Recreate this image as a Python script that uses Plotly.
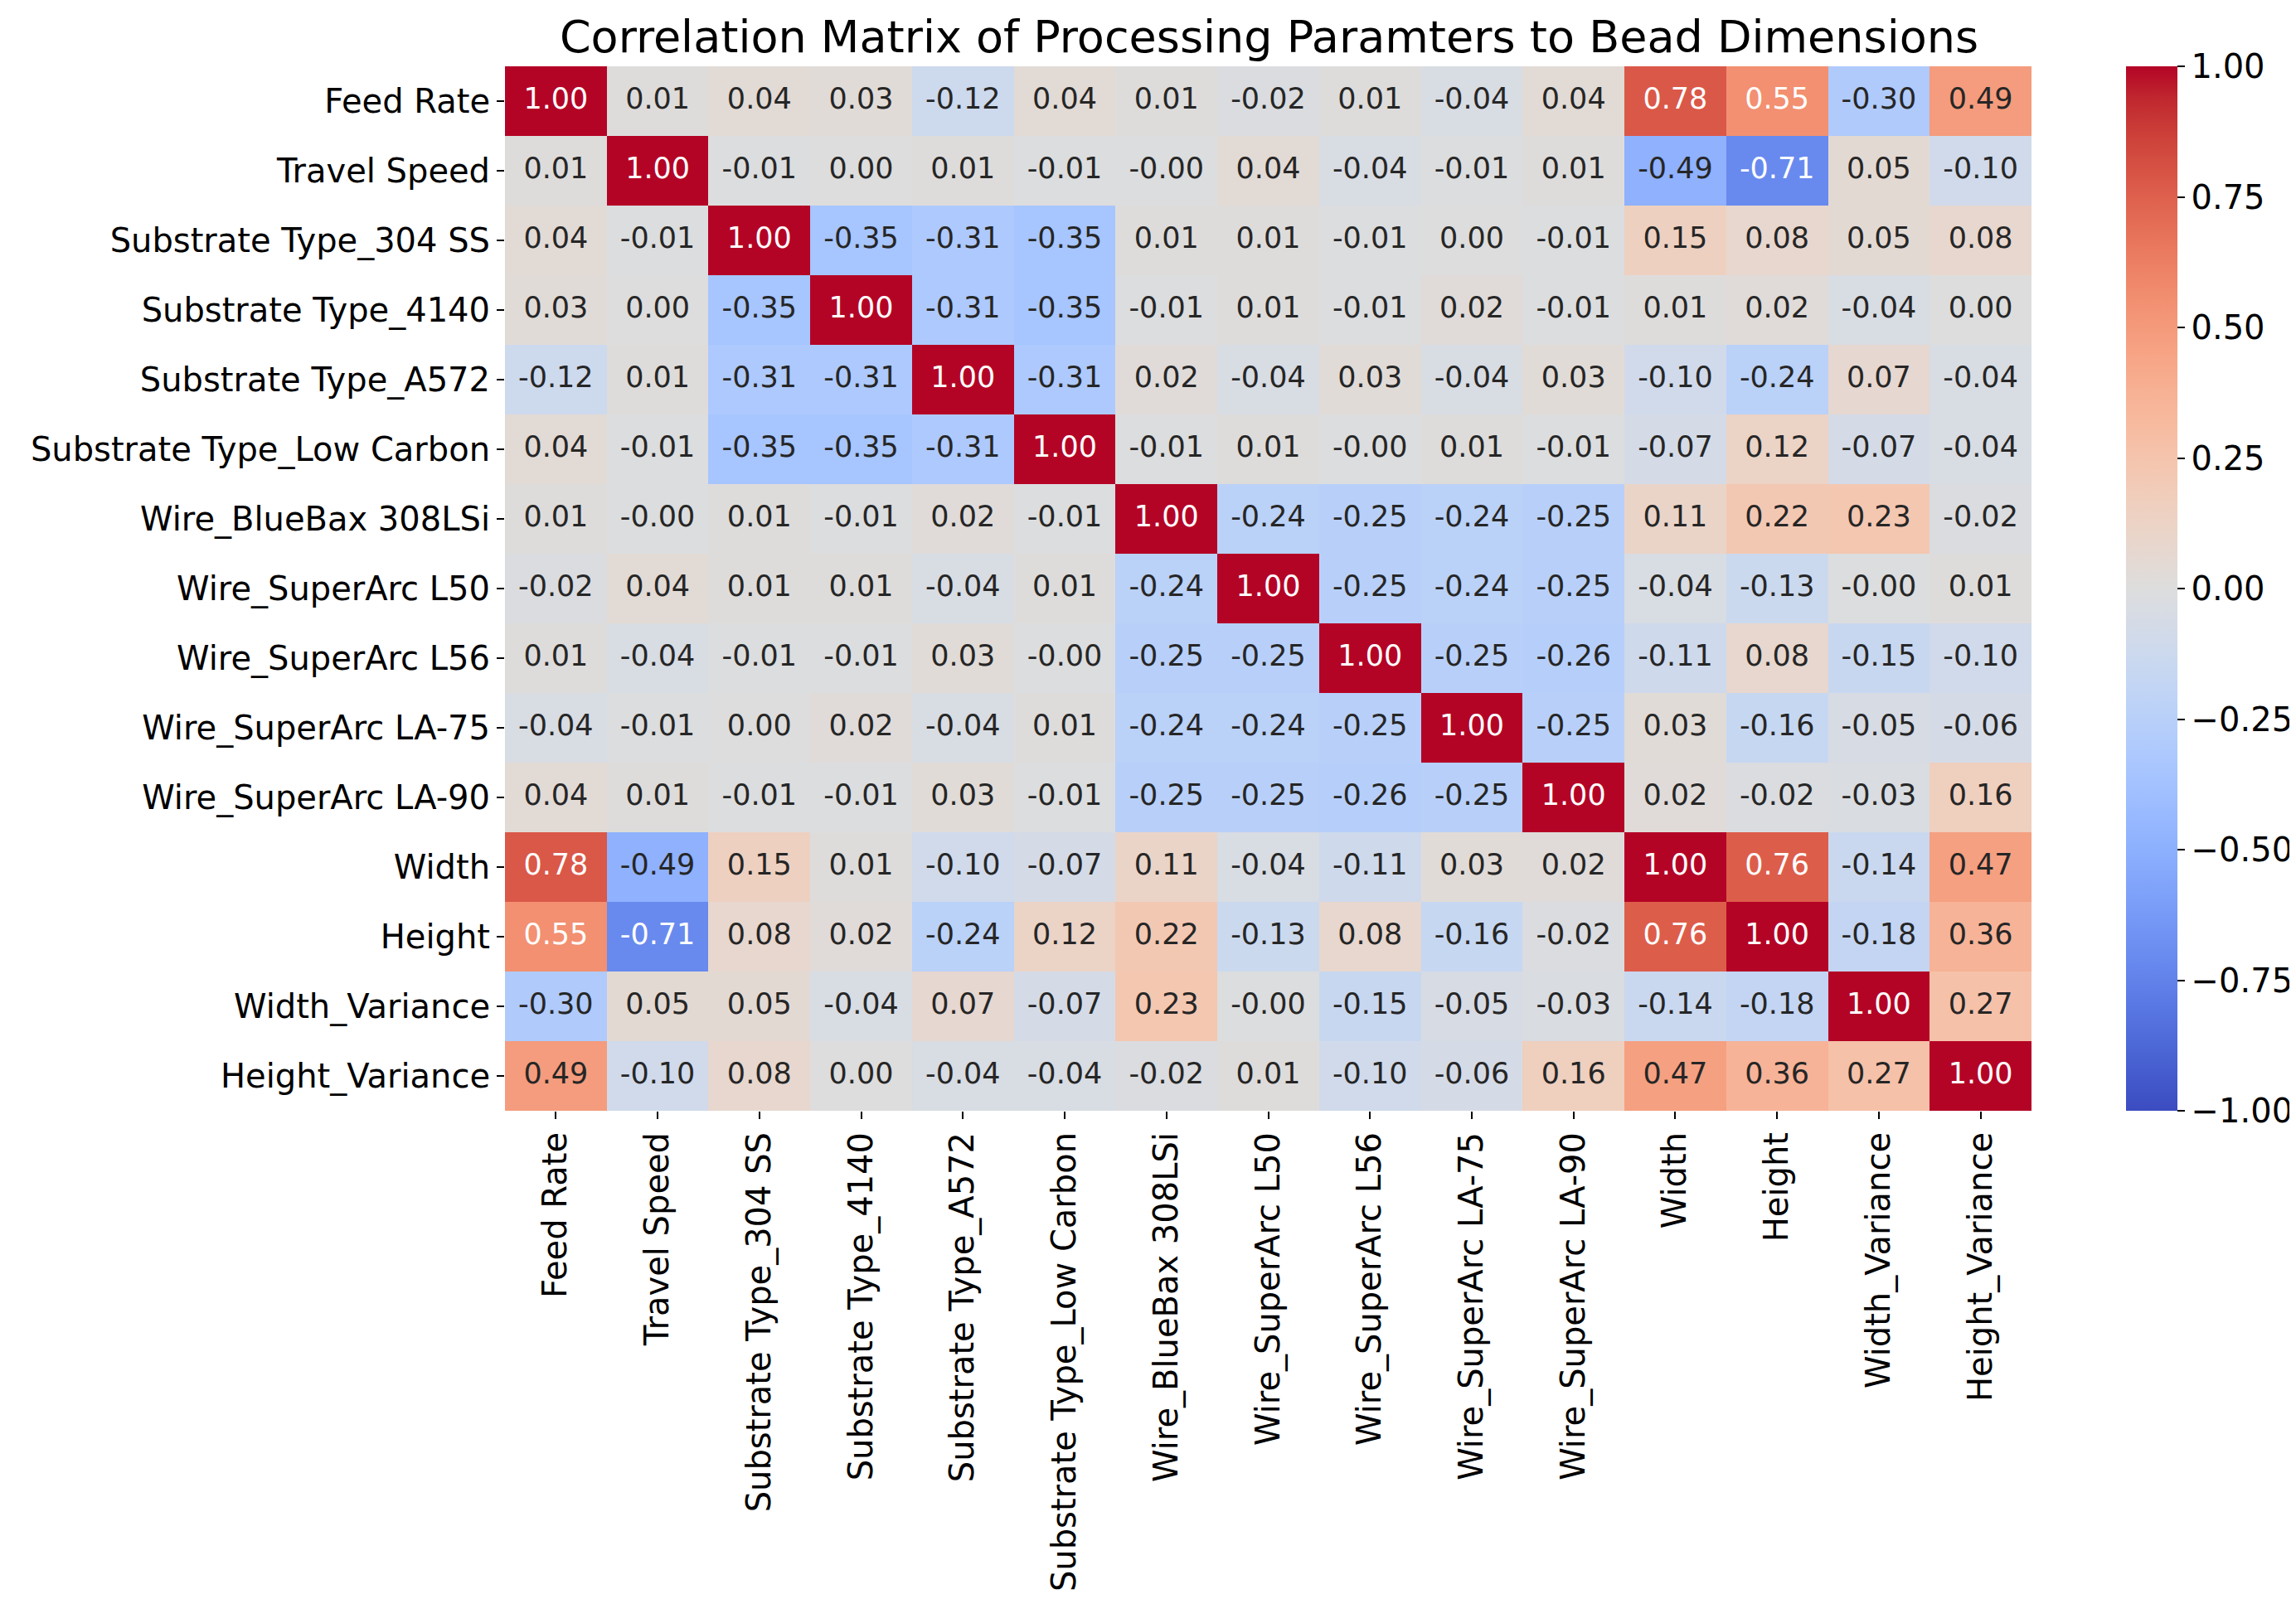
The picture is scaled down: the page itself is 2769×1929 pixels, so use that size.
import plotly.graph_objects as go

labels = [
    "Feed Rate", "Travel Speed", "Substrate Type_304 SS", "Substrate Type_4140",
    "Substrate Type_A572", "Substrate Type_Low Carbon", "Wire_BlueBax 308LSi",
    "Wire_SuperArc L50", "Wire_SuperArc L56", "Wire_SuperArc LA-75",
    "Wire_SuperArc LA-90", "Width", "Height", "Width_Variance", "Height_Variance",
]

# values; "-0.00" cells are small negatives
feed_rate        = [1.00, 0.01, 0.04, 0.03, -0.12, 0.04, 0.01, -0.02, 0.01, -0.04, 0.04, 0.78, 0.55, -0.30, 0.49]
travel_speed     = [0.01, 1.00, -0.01, 0.00, 0.01, -0.01, -0.004, 0.04, -0.04, -0.01, 0.01, -0.49, -0.71, 0.05, -0.10]
sub_304ss        = [0.04, -0.01, 1.00, -0.35, -0.31, -0.35, 0.01, 0.01, -0.01, 0.00, -0.01, 0.15, 0.08, 0.05, 0.08]
sub_4140         = [0.03, 0.00, -0.35, 1.00, -0.31, -0.35, -0.01, 0.01, -0.01, 0.02, -0.01, 0.01, 0.02, -0.04, 0.00]
sub_a572         = [-0.12, 0.01, -0.31, -0.31, 1.00, -0.31, 0.02, -0.04, 0.03, -0.04, 0.03, -0.10, -0.24, 0.07, -0.04]
sub_low_carbon   = [0.04, -0.01, -0.35, -0.35, -0.31, 1.00, -0.01, 0.01, -0.004, 0.01, -0.01, -0.07, 0.12, -0.07, -0.04]
wire_bluebax     = [0.01, -0.004, 0.01, -0.01, 0.02, -0.01, 1.00, -0.24, -0.25, -0.24, -0.25, 0.11, 0.22, 0.23, -0.02]
wire_l50         = [-0.02, 0.04, 0.01, 0.01, -0.04, 0.01, -0.24, 1.00, -0.25, -0.24, -0.25, -0.04, -0.13, -0.004, 0.01]
wire_l56         = [0.01, -0.04, -0.01, -0.01, 0.03, -0.004, -0.25, -0.25, 1.00, -0.25, -0.26, -0.11, 0.08, -0.15, -0.10]
wire_la75        = [-0.04, -0.01, 0.00, 0.02, -0.04, 0.01, -0.24, -0.24, -0.25, 1.00, -0.25, 0.03, -0.16, -0.05, -0.06]
wire_la90        = [0.04, 0.01, -0.01, -0.01, 0.03, -0.01, -0.25, -0.25, -0.26, -0.25, 1.00, 0.02, -0.02, -0.03, 0.16]
width            = [0.78, -0.49, 0.15, 0.01, -0.10, -0.07, 0.11, -0.04, -0.11, 0.03, 0.02, 1.00, 0.76, -0.14, 0.47]
height           = [0.55, -0.71, 0.08, 0.02, -0.24, 0.12, 0.22, -0.13, 0.08, -0.16, -0.02, 0.76, 1.00, -0.18, 0.36]
width_variance   = [-0.30, 0.05, 0.05, -0.04, 0.07, -0.07, 0.23, -0.004, -0.15, -0.05, -0.03, -0.14, -0.18, 1.00, 0.27]
height_variance  = [0.49, -0.10, 0.08, 0.00, -0.04, -0.04, -0.02, 0.01, -0.10, -0.06, 0.16, 0.47, 0.36, 0.27, 1.00]

matrix = [feed_rate, travel_speed, sub_304ss, sub_4140, sub_a572, sub_low_carbon,
          wire_bluebax, wire_l50, wire_l56, wire_la75, wire_la90, width, height,
          width_variance, height_variance]

colorbar_ticks = [-1.0, -0.75, -0.5, -0.25, 0.0, 0.25, 0.5, 0.75, 1.0]

# matplotlib "coolwarm"
coolwarm_rgb = [
    (59, 76, 192), (68, 90, 204), (77, 104, 215), (87, 117, 225), (98, 130, 234),
    (108, 142, 241), (119, 154, 247), (130, 165, 251), (141, 176, 254), (152, 185, 255),
    (163, 194, 255), (174, 201, 253), (184, 208, 249), (194, 213, 244), (204, 217, 238),
    (213, 219, 230), (221, 221, 221), (229, 216, 209), (236, 211, 197), (241, 204, 185),
    (245, 196, 173), (247, 187, 160), (247, 177, 148), (247, 166, 135), (244, 154, 123),
    (241, 141, 111), (236, 127, 99), (229, 112, 88), (222, 96, 77), (213, 80, 66),
    (203, 62, 56), (192, 40, 47), (180, 4, 38),
]
n = len(coolwarm_rgb)
colorscale = [[i / (n - 1), "rgb(%d,%d,%d)" % c] for i, c in enumerate(coolwarm_rgb)]


def cmap(v):
    t = (v + 1) / 2
    t = min(max(t, 0), 1) * (n - 1)
    i = min(int(t), n - 2)
    f = t - i
    a, b = coolwarm_rgb[i], coolwarm_rgb[i + 1]
    return [a[k] + (b[k] - a[k]) * f for k in range(3)]


def luminance(rgb):
    out = []
    for c in rgb:
        c = c / 255
        out.append(c / 12.92 if c <= 0.03928 else ((c + 0.055) / 1.055) ** 2.4)
    return 0.2126 * out[0] + 0.7152 * out[1] + 0.0722 * out[2]


tx, ty, tt, tc = [], [], [], []
for r, row in enumerate(matrix):
    for c, v in enumerate(row):
        tx.append(labels[c])
        ty.append(labels[r])
        tt.append(f"{v:.2f}")
        tc.append("#262626" if luminance(cmap(v)) > 0.408 else "white")

FONT = "DejaVu Sans"
W, H = 2769, 1929
L, R, T, B = 601, 2444, 72, 1332
nlab = len(labels)
TICK_SIZE = 40

fig = go.Figure()
fig.add_trace(go.Heatmap(
    z=matrix, x=labels, y=labels, zmin=-1, zmax=1, colorscale=colorscale,
    xgap=0, ygap=0,
    colorbar=dict(
        thickness=62, len=B - T, lenmode="pixels", x=(2558 - L) / (R - L), xanchor="left",
        y=0.5, yanchor="middle", xpad=0, ypad=0, outlinewidth=0,
        tickvals=colorbar_ticks, tickformat=".2f", ticks="outside", ticklen=9,
        tickwidth=1.5, tickcolor="black",
        tickfont=dict(family=FONT, size=TICK_SIZE, color="black"),
    ),
    hoverinfo="skip",
))
fig.add_trace(go.Scatter(
    x=tx, y=ty, text=tt, mode="text",
    textfont=dict(family=FONT, size=35, color=tc),
    showlegend=False, hoverinfo="skip", cliponaxis=False,
))

fig.update_layout(
    width=W, height=H,
    margin=dict(l=L, r=W - R, t=T, b=H - B, pad=0),
    paper_bgcolor="white", plot_bgcolor="white",
    font=dict(family=FONT, color="black"),
    title=dict(
        text="Correlation Matrix of Processing Paramters to Bead Dimensions",
        font=dict(family=FONT, size=54, color="black"),
        x=(L + R) / 2 / W, xanchor="center", xref="container",
        y=1 - 36 / H, yanchor="middle", yref="container",
    ),
    xaxis=dict(
        type="category", categoryorder="array", categoryarray=labels,
        range=[-0.5, nlab - 0.5], autorange=False,
        tickangle=-90, ticks="outside", ticklen=9, tickwidth=1.5, tickcolor="black",
        tickfont=dict(family=FONT, size=TICK_SIZE, color="black"),
        showgrid=False, zeroline=False, showline=False, fixedrange=True,
    ),
    yaxis=dict(
        type="category", categoryorder="array", categoryarray=labels,
        range=[nlab - 0.5, -0.5], autorange=False,
        ticks="outside", ticklen=9, tickwidth=1.5, tickcolor="black",
        tickfont=dict(family=FONT, size=TICK_SIZE, color="black"),
        showgrid=False, zeroline=False, showline=False, fixedrange=True,
    ),
)

fig.write_html("out.html")
